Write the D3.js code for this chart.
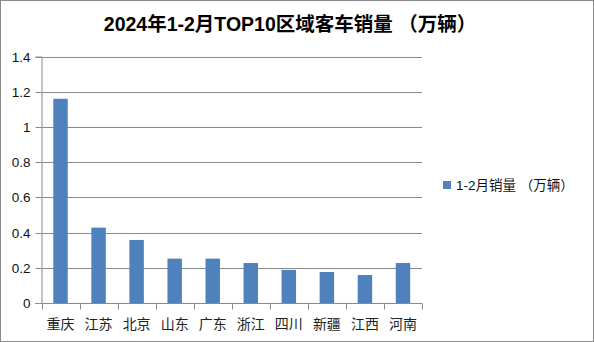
<!DOCTYPE html>
<html><head><meta charset="utf-8">
<script src="https://cdn.jsdelivr.net/npm/d3@7"></script>
<style>
html,body{margin:0;padding:0;background:#fff;}
svg{display:block;}
</style></head>
<body>
<svg id="c" width="594" height="342"></svg>
<script>
const categories = ["重庆","江苏","北京","山东","广东","浙江","四川","新疆","江西","河南"];
const values = [1.16, 0.428, 0.358, 0.252, 0.252, 0.227, 0.188, 0.176, 0.159, 0.227];
const yTicks = [0, 0.2, 0.4, 0.6, 0.8, 1, 1.2, 1.4];
const seriesName = "1-2月销量 （万辆）";
const titleText = "2024年1-2月TOP10区域客车销量 （万辆）";

const svg = d3.select("#c");
const W = 594, H = 342;
const m = {left: 41.5, right: 422, top: 56.5, bottom: 303};
const gridColor = "#8a8a8a";
const barColor = "#4f81bd";
const latin = "'Liberation Sans', Arial, 'Noto Sans CJK SC', sans-serif";

svg.append("rect").attr("x",0.5).attr("y",0.5).attr("width",W-1).attr("height",H-1)
  .attr("fill","#fff").attr("stroke","#8a8a8a");

const x = d3.scaleBand().domain(categories).range([m.left, m.right]).paddingInner(0.62).paddingOuter(0.31);
const xb = d3.scaleBand().domain(categories).range([m.left, m.right]);
const y = d3.scaleLinear().domain([0, 1.4]).range([m.bottom, m.top]);

// gridlines
svg.append("g").selectAll("line").data(yTicks.filter(d=>d>0)).join("line")
  .attr("x1", m.left).attr("x2", m.right)
  .attr("y1", d=>Math.round(y(d))+0.5).attr("y2", d=>Math.round(y(d))+0.5)
  .attr("stroke", gridColor).attr("stroke-width",1);

// bars
svg.append("g").selectAll("rect").data(values).join("rect")
  .attr("x", (d,i)=>x(categories[i]))
  .attr("width", x.bandwidth())
  .attr("y", d=>y(d))
  .attr("height", d=>y(0)-y(d))
  .attr("fill", barColor);

// y axis
const yAxis = d3.axisLeft(y).tickValues(yTicks).tickSize(6).tickPadding(5)
  .tickFormat(d=>String(+d.toFixed(1)));
const gy = svg.append("g").attr("transform",`translate(${m.left},0)`).call(yAxis);
gy.select(".domain").attr("stroke", gridColor);
gy.selectAll(".tick line").attr("stroke", gridColor);
gy.selectAll(".tick").attr("transform", d=>`translate(0,${Math.round(y(d))+0.5})`);
gy.selectAll("text").attr("font-family", latin).attr("font-size", 13.5).attr("fill","#111");

// x axis
const gx = svg.append("g").attr("transform",`translate(0,${Math.round(m.bottom)+0.5})`);
gx.append("line").attr("x1", m.left-6).attr("x2", m.right).attr("y1",0).attr("y2",0).attr("stroke",gridColor);
const edges = categories.map(c=>xb(c)).concat([m.right]);
gx.selectAll("line.t").data(edges).join("line").attr("class","t")
  .attr("x1", d=>Math.round(d)+0.5).attr("x2", d=>Math.round(d)+0.5)
  .attr("y1",0).attr("y2",6).attr("stroke",gridColor);
gx.selectAll("text").data(categories).join("text")
  .attr("x", d=>xb(d)+xb.bandwidth()/2).attr("y", 25)
  .attr("text-anchor","middle")
  .attr("font-family","'Noto Sans CJK SC', sans-serif").attr("font-size",14).attr("fill","#222")
  .text(d=>d);

// title
svg.append("text").attr("x", 290).attr("y", 31).attr("text-anchor","middle")
  .attr("font-family", latin).attr("font-weight","bold").attr("font-size",19.5).attr("fill","#000")
  .text(titleText);

// legend
const lg = svg.append("g").attr("transform","translate(443,181)");
lg.append("rect").attr("width",8).attr("height",8).attr("fill",barColor);
lg.append("text").attr("x",13).attr("y",9).attr("font-family", latin).attr("font-size",13.5)
  .attr("fill","#111").text(seriesName);
</script>
</body></html>
